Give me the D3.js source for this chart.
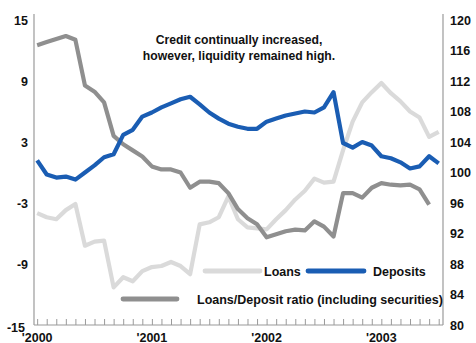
<!DOCTYPE html>
<html>
<head>
<meta charset="utf-8">
<script src="https://cdn.jsdelivr.net/npm/d3@7/dist/d3.min.js"></script>
<style>
  html, body { margin: 0; padding: 0; background: #fff; }
  svg { display: block; font-family: "Liberation Sans", Arial, Helvetica, sans-serif; }
</style>
</head>
<body>
<svg id="chart" width="476" height="343"></svg>
<script>
// Monthly observations, January 2000 onward (month index 0 = Jan 2000)
const loans = [
  -4.0, -4.4, -4.6, -3.7, -3.1, -7.2, -6.8, -6.7, -11.3, -10.3, -10.7, -9.7,
  -9.3, -9.2, -8.8, -9.2, -10.0, -5.1, -4.9, -4.4, -2.35, -4.6, -5.4, -5.5,
  -5.6, -4.6, -3.7, -2.65, -1.8, -0.6, -1.0, -0.9, 2.2, 5.0, 6.9, 7.9,
  8.8, 7.8, 7.0, 6.0, 5.4, 3.5, 4.0
];
const deposits = [
  1.2, -0.2, -0.5, -0.4, -0.7, 0.0, 0.7, 1.5, 1.8, 3.7, 4.2, 5.5,
  5.9, 6.4, 6.8, 7.2, 7.45, 6.7, 5.9, 5.3, 4.8, 4.5, 4.3, 4.3,
  5.0, 5.3, 5.6, 5.8, 6.0, 5.9, 6.4, 7.9, 2.9, 2.45, 3.0, 2.65,
  1.6, 1.4, 1.0, 0.4, 0.6, 1.6, 0.9
];
const ratio = [
  116.7, 117.1, 117.5, 117.9, 117.4, 111.4, 110.6, 109.2, 104.8, 103.7, 102.9, 102.1,
  100.8, 100.4, 100.4, 100.0, 98.0, 98.8, 98.8, 98.6, 97.3, 95.2, 94.0, 93.2,
  91.5, 91.9, 92.3, 92.5, 92.4, 93.6, 92.9, 91.6, 97.3, 97.3, 96.7, 98.0,
  98.6, 98.4, 98.3, 98.4, 97.8, 95.8
];
const yearLabels = ["'2000", "'2001", "'2002", "'2003"];
const leftTicks = [15, 9, 3, -3, -9, -15];
const rightTicks = [120, 116, 112, 108, 104, 100, 96, 92, 88, 84, 80];
const noteLines = ["Credit continually increased,", "however, liquidity remained high."];

const svg = d3.select("#chart");
const plotLeft = 34, plotRight = 443, plotTop = 20, plotBottom = 325;

const x = d3.scaleLinear().domain([-0.33, 42.45]).range([plotLeft, plotRight]);
const yL = d3.scaleLinear().domain([-15, 15]).range([plotBottom, plotTop]);
const yR = d3.scaleLinear().domain([80, 120]).range([plotBottom, plotTop]);

const axisColor = "#9a9a9a";

// frame: left and right rules
svg.append("line").attr("x1", plotLeft).attr("x2", plotLeft).attr("y1", 14).attr("y2", plotBottom)
  .attr("stroke", axisColor).attr("stroke-width", 1.2);
svg.append("line").attr("x1", plotRight).attr("x2", plotRight).attr("y1", 14).attr("y2", plotBottom)
  .attr("stroke", axisColor).attr("stroke-width", 1.2);

// bottom axis with monthly ticks pointing up
const months = d3.range(0, 43);
const xAxis = d3.axisBottom(x).tickValues(months).tickSize(-6).tickFormat("");
const gx = svg.append("g").attr("transform", `translate(0,${plotBottom})`).call(xAxis);
gx.select(".domain").attr("stroke", axisColor).attr("stroke-width", 1.2)
  .attr("d", `M${plotLeft},0H${plotRight}`);
gx.selectAll(".tick line").attr("stroke", axisColor).attr("stroke-width", 1);

// year labels
svg.append("g").selectAll("text").data(yearLabels).join("text")
  .attr("x", (d, i) => x(i * 12))
  .attr("y", 341.5)
  .attr("text-anchor", "middle")
  .attr("font-size", 12.5).attr("font-weight", "bold").attr("fill", "#111")
  .text(d => d);

// left value labels (the bottom one sits just under the axis)
svg.append("g").selectAll("text").data(leftTicks).join("text")
  .attr("x", d => d === -15 ? 25 : 28)
  .attr("y", d => d === -15 ? 331.5 : yL(d) + 4.5)
  .attr("text-anchor", "end")
  .attr("font-size", 12.5).attr("font-weight", "bold").attr("fill", "#111")
  .text(d => d);

// right value labels
svg.append("g").selectAll("text").data(rightTicks).join("text")
  .attr("x", 450)
  .attr("y", d => yR(d) + 4.5)
  .attr("text-anchor", "start")
  .attr("font-size", 12.5).attr("font-weight", "bold").attr("fill", "#111")
  .text(d => d);

// series lines
const lineL = d3.line().x((d, i) => x(i)).y(d => yL(d));
const lineR = d3.line().x((d, i) => x(i)).y(d => yR(d));

const colLoans = "#dadada", colDep = "#1a5db3", colRatio = "#8f8f8f";

svg.append("path").datum(loans).attr("d", lineL)
  .attr("fill", "none").attr("stroke", colLoans).attr("stroke-width", 4.2).attr("stroke-linejoin", "round");
svg.append("path").datum(ratio).attr("d", lineR)
  .attr("fill", "none").attr("stroke", colRatio).attr("stroke-width", 4.2).attr("stroke-linejoin", "round");
svg.append("path").datum(deposits).attr("d", lineL)
  .attr("fill", "none").attr("stroke", colDep).attr("stroke-width", 4.2).attr("stroke-linejoin", "round");

// legend
const legend = [
  { label: "Loans", color: colLoans, x1: 205, x2: 260, tx: 264, y: 271 },
  { label: "Deposits", color: colDep, x1: 308, x2: 364, tx: 373, y: 271 },
  { label: "Loans/Deposit ratio (including securities)", color: colRatio, x1: 123, x2: 177, tx: 197, y: 299 }
];
const lg = svg.append("g");
legend.forEach(d => {
  lg.append("line").attr("x1", d.x1).attr("x2", d.x2).attr("y1", d.y).attr("y2", d.y)
    .attr("stroke", d.color).attr("stroke-width", 4.8).attr("stroke-linecap", "round");
  lg.append("text").attr("x", d.tx).attr("y", d.y + 5)
    .attr("font-size", 12.5).attr("font-weight", "bold").attr("fill", "#111").text(d.label);
});

// note
svg.append("g").selectAll("text").data(noteLines).join("text")
  .attr("x", 239)
  .attr("y", (d, i) => 44 + i * 16)
  .attr("text-anchor", "middle")
  .attr("font-size", 12.2).attr("font-weight", "bold").attr("fill", "#111")
  .text(d => d);
</script>
</body>
</html>
